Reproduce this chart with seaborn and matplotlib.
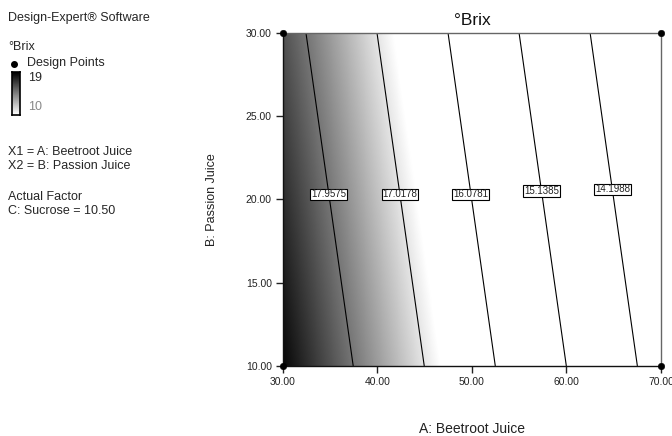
import numpy as np
import matplotlib
matplotlib.use("Agg")
import matplotlib.pyplot as plt
import seaborn as sns
from matplotlib.colors import LinearSegmentedColormap, Normalize

# Fitted response model (°Brix = b0 + bA*A + bB*B)
b0 = 22.949
bA = -0.125
bB = -0.03125

# Factor ranges
a_range = [30.0, 70.0]
b_range = [10.0, 30.0]

# Contour levels and where their labels sit (B value)
levels = [14.1988, 15.1385, 16.0781, 17.0178, 17.9575]
label_b = [20.6, 20.5, 20.3, 20.3, 20.3]

# Design points (corners)
design_a = [30, 70, 30, 70]
design_b = [10, 10, 30, 30]

x_ticks = [30, 40, 50, 60, 70]
y_ticks = [10, 15, 20, 25, 30]

sns.set_theme(style="white")
plt.rcParams['font.family'] = ['Liberation Sans', 'DejaVu Sans']

fig = plt.figure(figsize=(6.72, 4.36), dpi=100)
ax = fig.add_axes([0.4211, 0.1606, 0.5625, 0.7638])

A, B = np.meshgrid(np.linspace(a_range[0], a_range[1], 401),
                   np.linspace(b_range[0], b_range[1], 201))
Z = b0 + bA * A + bB * B

cmap = LinearSegmentedColormap.from_list("brix", ["#ffffff", "#000000"])
ax.imshow(Z, origin="lower", extent=[30, 70, 10, 30], aspect="auto",
          cmap=cmap, norm=Normalize(16.8, 18.95, clip=True), interpolation="bilinear")
ax.contour(A, B, Z, levels=levels, colors="black", linewidths=0.8)

for lev, yb in zip(levels, label_b):
    xa = (b0 + bB * yb - lev) / -bA
    ax.text(xa, yb, f"{lev:.4f}", ha="center", va="center", fontsize=7, color="#222222",
            bbox=dict(boxstyle="square,pad=0.1", fc="white", ec="black", lw=0.8))

sns.scatterplot(x=design_a, y=design_b, ax=ax, color="black", s=22, edgecolor="black",
                zorder=5, clip_on=False, legend=False)

ax.set_xlim(a_range)
ax.set_ylim(b_range)
ax.set_xticks(x_ticks)
ax.set_yticks(y_ticks)
ax.set_xticklabels([f"{v:.2f}" for v in x_ticks])
ax.set_yticklabels([f"{v:.2f}" for v in y_ticks])
ax.tick_params(direction="out", length=5, width=1, colors="#222222", labelsize=7.5, pad=3,
               bottom=True, left=True)
for s in ["left", "bottom"]:
    ax.spines[s].set_color("#111111")
    ax.spines[s].set_linewidth(1)
for s in ["top", "right"]:
    ax.spines[s].set_color("#666666")
    ax.spines[s].set_linewidth(1)

ax.set_title("°Brix", fontsize=12.5, pad=6, color="#111111")
ax.set_xlabel("A: Beetroot Juice", fontsize=10, labelpad=25, color="#222222")
ax.set_ylabel("B: Passion Juice", fontsize=9, labelpad=20, color="#222222")

# Left-hand annotation block
fs = 9
fig.text(8 / 672, 1 - 18 / 436, "Design-Expert® Software", fontsize=fs, va="center")
fig.text(8 / 672, 1 - 47 / 436, "°Brix", fontsize=fs, va="center")
fig.text(27 / 672, 1 - 63 / 436, "Design Points", fontsize=fs, va="center")
fig.add_artist(plt.Line2D([14 / 672], [1 - 64 / 436], marker="o", color="black", markersize=4))
fig.text(28 / 672, 1 - 78 / 436, "19", fontsize=fs, va="center")
fig.text(28 / 672, 1 - 107 / 436, "10", fontsize=fs, va="center", color="#888888")
cax = fig.add_axes([12 / 672, 1 - 115 / 436, 8 / 672, 43 / 436])
cax.imshow(np.linspace(1, 0, 50).reshape(-1, 1), cmap=cmap, aspect="auto")
cax.set_xticks([])
cax.set_yticks([])
for s in cax.spines.values():
    s.set_color("black")
    s.set_linewidth(1.2)
fig.text(8 / 672, 1 - 152 / 436, "X1 = A: Beetroot Juice", fontsize=fs, va="center")
fig.text(8 / 672, 1 - 166 / 436, "X2 = B: Passion Juice", fontsize=fs, va="center")
fig.text(8 / 672, 1 - 197 / 436, "Actual Factor", fontsize=fs, va="center")
fig.text(8 / 672, 1 - 211 / 436, "C: Sucrose = 10.50", fontsize=fs, va="center")

fig.savefig("out.png", dpi=100)
